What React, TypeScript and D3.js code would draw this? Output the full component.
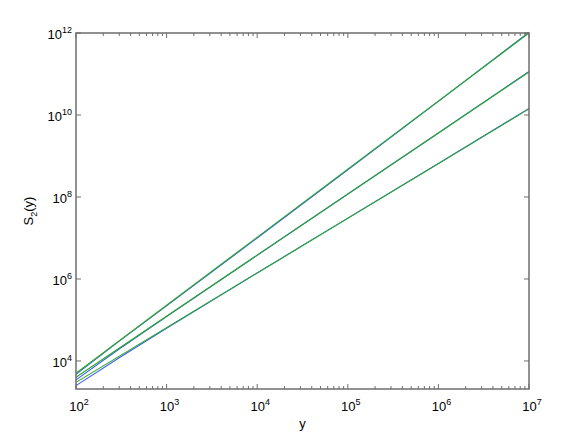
import React from 'react';
import * as d3 from 'd3';

// x values (y on the axis) and S_2(y) values
const xGreen = [1e2, 1e7];
const greenA = [5.0e3, 1.0e12];
const greenB = [4.0e3, 1.12e11];
const greenC = [3.0e3, 1.41e10];

const xBlue = [1e2, 3e2, 1e3, 1e4, 1e5, 1e6, 1e7];
const blueA = [4.7e3, 3.05e4, 2.2e5, 1.0e7, 4.6e8, 2.15e10, 1.04e12];
const blueB = [3.45e3, 1.95e4, 1.22e5, 3.8e6, 1.18e8, 3.65e9, 1.15e11];
const blueC = [2.5e3, 1.2e4, 6.3e4, 1.4e6, 3.05e7, 6.55e8, 1.45e10];

const xTickExps = [2, 3, 4, 5, 6, 7];
const yTickExps = [4, 6, 8, 10, 12];

const W = 584;
const H = 439;
const plot = { left: 76, right: 529, top: 33, bottom: 389 };

const axisColor = '#6e6e6e';
const blue = '#3d5ef5';
const green = '#2aa82a';
const font = '"Liberation Sans", Arial, Helvetica, sans-serif';

const App = () => {
  const x = d3.scaleLog().domain([1e2, 1e7]).range([plot.left, plot.right]);
  const y = d3.scaleLog().domain([2.07e3, 1e12]).range([plot.bottom, plot.top]);

  const line = d3.line<[number, number]>()
    .x(d => x(d[0]))
    .y(d => y(d[1]));

  const zip = (xs: number[], ys: number[]) => xs.map((v, i) => [v, ys[i]] as [number, number]);

  const blues = [blueA, blueB, blueC];
  const greens = [greenA, greenB, greenC];

  // minor ticks on x: 2..9 times each decade
  const xMinor: number[] = [];
  for (let e = 2; e < 7; e++) {
    for (let m = 2; m <= 9; m++) xMinor.push(m * Math.pow(10, e));
  }

  return (
    <div style={{ position: 'absolute', left: 0, top: 0 }}>
      <svg width={W} height={H} style={{ fontFamily: font, display: 'block' }}>
        <rect x={0} y={0} width={W} height={H} fill="#fff" />

        {/* series: blue underneath, green on top */}
        {blues.map((s, i) => (
          <path key={`b-${i}`} d={line(zip(xBlue, s)) || ''} fill="none" stroke={blue} strokeWidth={1.1} />
        ))}
        {greens.map((s, i) => (
          <path key={`g-${i}`} d={line(zip(xGreen, s)) || ''} fill="none" stroke={green} strokeWidth={1.1} />
        ))}

        {/* x ticks, bottom and top, pointing inward */}
        {xMinor.map((t, i) => (
          <g key={`xm-${i}`} stroke={axisColor} strokeWidth={1}>
            <line x1={x(t)} x2={x(t)} y1={plot.bottom} y2={plot.bottom - 3} />
            <line x1={x(t)} x2={x(t)} y1={plot.top} y2={plot.top + 3} />
          </g>
        ))}
        {xTickExps.map(e => (
          <g key={`xt-${e}`} stroke={axisColor} strokeWidth={1}>
            <line x1={x(Math.pow(10, e))} x2={x(Math.pow(10, e))} y1={plot.bottom} y2={plot.bottom - 5} />
            <line x1={x(Math.pow(10, e))} x2={x(Math.pow(10, e))} y1={plot.top} y2={plot.top + 5} />
          </g>
        ))}

        {/* y ticks, left and right */}
        {yTickExps.map(e => (
          <g key={`yt-${e}`} stroke={axisColor} strokeWidth={1}>
            <line x1={plot.left} x2={plot.left + 5} y1={y(Math.pow(10, e))} y2={y(Math.pow(10, e))} />
            <line x1={plot.right} x2={plot.right - 5} y1={y(Math.pow(10, e))} y2={y(Math.pow(10, e))} />
          </g>
        ))}

        {/* frame */}
        <rect
          x={plot.left}
          y={plot.top}
          width={plot.right - plot.left}
          height={plot.bottom - plot.top}
          fill="none"
          stroke={axisColor}
          strokeWidth={1.5}
        />

        {/* x tick labels */}
        {xTickExps.map(e => (
          <text key={`xl-${e}`} x={x(Math.pow(10, e)) + 3} y={411} textAnchor="middle" fontSize={13} fill="#000">
            10<tspan dy={-6} fontSize={9}>{e}</tspan>
          </text>
        ))}

        {/* y tick labels */}
        {yTickExps.map(e => (
          <text key={`yl-${e}`} x={plot.left - 4} y={y(Math.pow(10, e)) + 6} textAnchor="end" fontSize={13} fill="#000">
            10<tspan dy={-6} fontSize={9}>{e}</tspan>
          </text>
        ))}

        {/* axis titles */}
        <text x={(plot.left + plot.right) / 2} y={428} textAnchor="middle" fontSize={13} fill="#000">y</text>
        <text
          transform={`translate(33, ${(plot.top + plot.bottom) / 2}) rotate(-90)`}
          textAnchor="middle"
          fontSize={13}
          fill="#000"
        >
          S<tspan dy={4} fontSize={9}>2</tspan><tspan dy={-4}>(y)</tspan>
        </text>
      </svg>
    </div>
  );
};

export default App;
